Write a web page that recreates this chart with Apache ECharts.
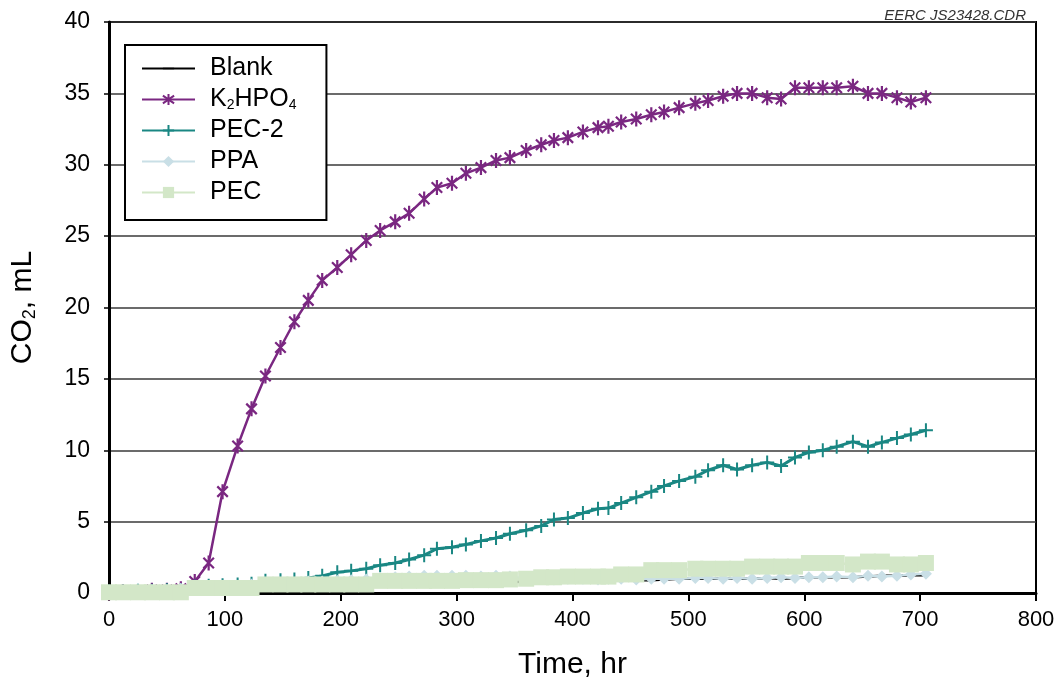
<!DOCTYPE html>
<html>
<head>
<meta charset="utf-8">
<script src="https://cdn.jsdelivr.net/npm/echarts@6/dist/echarts.min.js"></script>
<style>
  html, body { margin: 0; padding: 0; background: #fff; }
  #chart { width: 1060px; height: 685px; }
</style>
</head>
<body>
<div id="chart"></div>
<script>
// Sampling times (hr) shared by all five runs
const hours = [0, 12, 25, 37, 50, 62, 74, 86, 98, 111, 123, 135, 148, 160, 172, 184, 197, 209, 222, 234,
  247, 259, 272, 283, 296, 308, 321, 334, 346, 360, 373, 384, 396, 409, 422, 431, 442, 455, 468, 479,
  492, 506, 517, 530, 542, 555, 568, 580, 592, 604, 616, 628, 642, 655, 667, 680, 692, 705];

// Cumulative CO2 (mL)
const blank = [0.05, 0.05, 0.05, 0.05, 0.05, 0.05, 0.3, 0.3, 0.3, 0.3, 0.3, 0.5, 0.5, 0.5, 0.5, 0.5, 0.5, 0.5, 0.5, 0.7,
  0.7, 0.7, 0.7, 0.7, 0.7, 0.7, 0.75, 0.75, 0.75, 0.8, 0.8, 0.8, 0.85, 0.85, 0.85, 0.85, 0.9, 0.9, 0.9, 0.95,
  1.0, 1.0, 1.0, 1.0, 1.0, 1.0, 1.05, 1.0, 1.05, 1.1, 1.1, 1.1, 1.1, 1.15, 1.2, 1.2, 1.25, 1.25];

const k2hpo4 = [0, 0.1, 0.1, 0.2, 0.2, 0.3, 0.8, 2.1, 7.1, 10.3, 12.9, 15.2, 17.2, 19.0, 20.5, 21.9, 22.8, 23.7, 24.7, 25.4,
  26.0, 26.6, 27.6, 28.4, 28.7, 29.4, 29.8, 30.3, 30.5, 31.0, 31.4, 31.7, 31.9, 32.3, 32.6, 32.7, 33.0, 33.2, 33.5, 33.7,
  34.0, 34.3, 34.5, 34.8, 35.0, 35.0, 34.7, 34.6, 35.4, 35.4, 35.4, 35.4, 35.5, 35.0, 35.0, 34.7, 34.4, 34.7];

const pec2 = [0.1, 0.1, 0.15, 0.15, 0.2, 0.2, 0.45, 0.5, 0.55, 0.6, 0.65, 0.85, 0.9, 0.95, 1.05, 1.2, 1.45, 1.55, 1.7, 1.95,
  2.1, 2.35, 2.65, 3.1, 3.2, 3.4, 3.65, 3.85, 4.15, 4.4, 4.7, 5.15, 5.25, 5.6, 5.9, 5.95, 6.3, 6.7, 7.1, 7.5,
  7.85, 8.15, 8.6, 8.95, 8.65, 8.95, 9.15, 8.9, 9.5, 9.85, 10.0, 10.25, 10.6, 10.25, 10.55, 10.85, 11.1, 11.4];

const ppa = [0.1, 0.1, 0.2, 0.2, 0.2, 0.3, 0.4, 0.4, 0.5, 0.5, 0.6, 0.6, 0.7, 0.7, 0.8, 0.8, 0.85, 0.9, 0.95, 1.05,
  1.1, 1.15, 1.2, 1.2, 1.2, 1.2, 1.15, 1.2, 1.15, 1.0, 1.0, 0.95, 1.0, 1.0, 0.95, 1.0, 1.0, 0.95, 1.0, 1.0,
  1.0, 1.05, 1.05, 1.0, 1.05, 1.0, 1.05, 1.1, 1.05, 1.1, 1.1, 1.15, 1.1, 1.2, 1.15, 1.2, 1.3, 1.35];

const pec = [0.05, 0.05, 0.05, 0.05, 0.05, 0.05, 0.35, 0.35, 0.35, 0.35, 0.35, 0.6, 0.6, 0.6, 0.6, 0.6, 0.6, 0.6, 0.6, 0.85,
  0.85, 0.85, 0.85, 0.85, 0.85, 0.9, 0.9, 0.9, 0.95, 1.0, 1.1, 1.1, 1.15, 1.15, 1.15, 1.15, 1.3, 1.3, 1.6, 1.6,
  1.6, 1.7, 1.7, 1.7, 1.7, 1.85, 1.85, 1.85, 1.85, 2.1, 2.1, 2.1, 2.0, 2.2, 2.2, 2.0, 2.0, 2.1];

const seriesNames = ['Blank', 'K2HPO4', 'PEC-2', 'PPA', 'PEC'];
const timeAxis = { min: 0, max: 800, step: 100 };
const co2Axis = { min: 0, max: 40, step: 5 };

const FONT = '"Liberation Sans", Arial, Helvetica, sans-serif';
const PURPLE = '#7a2781';
const TEAL = '#1a8783';
const LIGHT_BLUE = '#c9dfe6';
const LIGHT_GREEN = '#d3e7c8';

const pairs = (ys) => hours.map((h, i) => [h, ys[i]]);

// Excel-style markers: star (X with a vertical bar), plus, and a thin bar for the plain line
// (the flat bar carries two zero-area anchors so its box stays square)
const STAR = 'path://M0,-10L0,10M-7,-7L7,7M-7,7L7,-7';
const PLUS = 'path://M0,-10L0,10M-10,0L10,0';
const FLAT = 'path://M0,-10L0,-10ZM0,10L0,10ZM-10,-1.2L10,-1.2L10,1.2L-10,1.2Z';

const chart = echarts.init(document.getElementById('chart'), null, { renderer: 'canvas' });

chart.setOption({
  animation: false,
  backgroundColor: '#fff',
  title: {
    text: 'EERC JS23428.CDR',
    right: 29, top: 3,
    textStyle: { fontFamily: FONT, fontSize: 15, fontStyle: 'italic', fontWeight: 'normal', color: '#333' }
  },
  grid: {
    left: 108, right: 24, top: 22, bottom: 92,
    show: true, borderColor: '#000', borderWidth: 2, backgroundColor: 'transparent'
  },
  legend: {
    data: seriesNames,
    orient: 'vertical',
    left: 125, top: 45,
    padding: [11, 30, 15, 16],
    itemWidth: 53, itemHeight: 14, itemGap: 6,
    backgroundColor: '#fff',
    borderColor: '#000', borderWidth: 2,
    textStyle: {
      fontFamily: FONT, fontSize: 25, color: '#000', lineHeight: 25, padding: [0, 0, 0, 10],
      rich: {
        n: { fontFamily: FONT, fontSize: 25, color: '#000', lineHeight: 25, verticalAlign: 'middle' },
        s: { fontFamily: FONT, fontSize: 14, color: '#000', lineHeight: 12, verticalAlign: 'bottom' }
      }
    },
    formatter: (name) => name === 'K2HPO4' ? '{n|K}{s|2}{n|HPO}{s|4}' : name
  },
  xAxis: {
    type: 'value',
    min: timeAxis.min, max: timeAxis.max, interval: timeAxis.step,
    name: 'Time, hr', nameLocation: 'middle', nameGap: 57,
    nameTextStyle: { fontFamily: FONT, fontSize: 30, color: '#000' },
    axisLine: { show: true, onZero: false, lineStyle: { color: '#000', width: 3 } },
    axisTick: { show: true, length: 8, lineStyle: { color: '#000', width: 2 } },
    axisLabel: { fontFamily: FONT, fontSize: 22, color: '#000', margin: 16 },
    splitLine: { show: false }
  },
  yAxis: {
    type: 'value',
    min: co2Axis.min, max: co2Axis.max, interval: co2Axis.step,
    name: '{a|CO}{b|2}{a|, mL}', nameLocation: 'middle', nameGap: 70, nameRotate: 90,
    nameTextStyle: {
      rich: {
        a: { fontFamily: FONT, fontSize: 30, color: '#000', lineHeight: 32, verticalAlign: 'middle' },
        b: { fontFamily: FONT, fontSize: 18, color: '#000', lineHeight: 14, verticalAlign: 'bottom' }
      }
    },
    axisLine: { show: true, lineStyle: { color: '#000', width: 3 } },
    axisTick: { show: true, length: 5, lineStyle: { color: '#000', width: 1.5 } },
    axisLabel: { fontFamily: FONT, fontSize: 23, color: '#000', margin: 19 },
    splitLine: { show: true, lineStyle: { color: '#3a3a3a', width: 1.6 } }
  },
  series: [
    {
      name: 'Blank', type: 'line', data: pairs(blank),
      symbol: FLAT, symbolSize: 12, showSymbol: false,
      lineStyle: { color: '#000', width: 2.5 },
      itemStyle: { color: '#000', borderWidth: 0 }
    },
    {
      name: 'K2HPO4', type: 'line', data: pairs(k2hpo4),
      symbol: STAR, symbolSize: 15, symbolKeepAspect: true, showAllSymbol: true,
      lineStyle: { color: PURPLE, width: 2.5 },
      itemStyle: { color: PURPLE, borderColor: PURPLE, borderWidth: 2.2 }
    },
    {
      name: 'PEC-2', type: 'line', data: pairs(pec2),
      symbol: PLUS, symbolSize: 14, showAllSymbol: true,
      lineStyle: { color: TEAL, width: 3 },
      itemStyle: { color: TEAL, borderColor: TEAL, borderWidth: 2 }
    },
    {
      name: 'PPA', type: 'line', data: pairs(ppa),
      symbol: 'diamond', symbolSize: 12, showAllSymbol: true,
      lineStyle: { color: LIGHT_BLUE, width: 2.5 },
      itemStyle: { color: LIGHT_BLUE, borderWidth: 0 }
    },
    {
      name: 'PEC', type: 'line', data: pairs(pec),
      symbol: 'rect', symbolSize: 16, showAllSymbol: true,
      lineStyle: { color: LIGHT_GREEN, width: 2.5 },
      itemStyle: { color: LIGHT_GREEN, borderWidth: 0 }
    }
  ]
});
</script>
</body>
</html>
